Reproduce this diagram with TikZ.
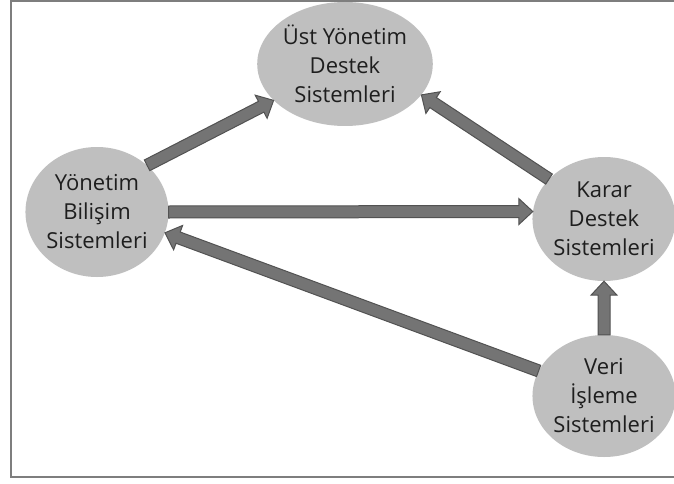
\documentclass[tikz,border=0pt]{standalone}
\usepackage{fontspec}
\setmainfont{Open Sans}
\usetikzlibrary{shapes.geometric,calc}
\definecolor{ellfill}{HTML}{BFBFBF}
\definecolor{arrfill}{HTML}{747474}
\definecolor{arrline}{HTML}{525252}
\definecolor{txt}{HTML}{1E1E1E}
\definecolor{frame}{HTML}{7E7E7E}
\tikzset{
  sysnode/.style={ellipse, fill=ellfill, draw=none, inner sep=0pt, align=center,
    text=txt, font=\fontsize{22}{29}\selectfont},
  fatarrow/.style={fill=arrfill, draw=arrline, line width=1pt, line join=miter},
}
% fat block arrow from #1 to #2 ; #3 = name prefix
\newcommand\fatarr[3]{%
  \coordinate (#3h) at ($(#2)!14pt!(#1)$);
  \path[fatarrow]
    ($(#1)!6pt!90:(#2)$) -- ($(#3h)!6pt!90:(#2)$) -- ($(#3h)!13pt!90:(#2)$)
    -- (#2) -- ($(#3h)!13pt!-90:(#2)$) -- ($(#3h)!6pt!-90:(#2)$)
    -- ($(#1)!6pt!-90:(#2)$) -- cycle;%
}
\begin{document}
\begin{tikzpicture}[x=1pt,y=-1pt]
\useasboundingbox (0,0) rectangle (674,484);
\fill[white] (0,0) rectangle (674,484);
\draw[frame, line width=2pt] (680,1) -- (11,1) -- (11,477) -- (680,477);

\node[sysnode, minimum width=156pt, minimum height=124pt] (ust) at (345,64)
  {Üst Yönetim\\Destek\\Sistemleri};
\node[sysnode, minimum width=126pt, minimum height=130pt] (ybs) at (97,212)
  {Yönetim\\Bilişim\\Sistemleri};
\node[sysnode, minimum width=134pt, minimum height=124pt] (kds) at (604,219)
  {Karar\\Destek\\Sistemleri};
\node[sysnode, minimum width=134pt, minimum height=122pt] (vis) at (604,396)
  {Veri\\İşleme\\Sistemleri};

\fatarr{ybs.43}{ust.207}{a}
\fatarr{kds.144}{ust.-22}{b}
\fatarr{ybs.east}{kds.174}{c}
\fatarr{vis.159}{ybs.-17}{d}
\fatarr{vis.north}{kds.south}{e}
\end{tikzpicture}
\end{document}
